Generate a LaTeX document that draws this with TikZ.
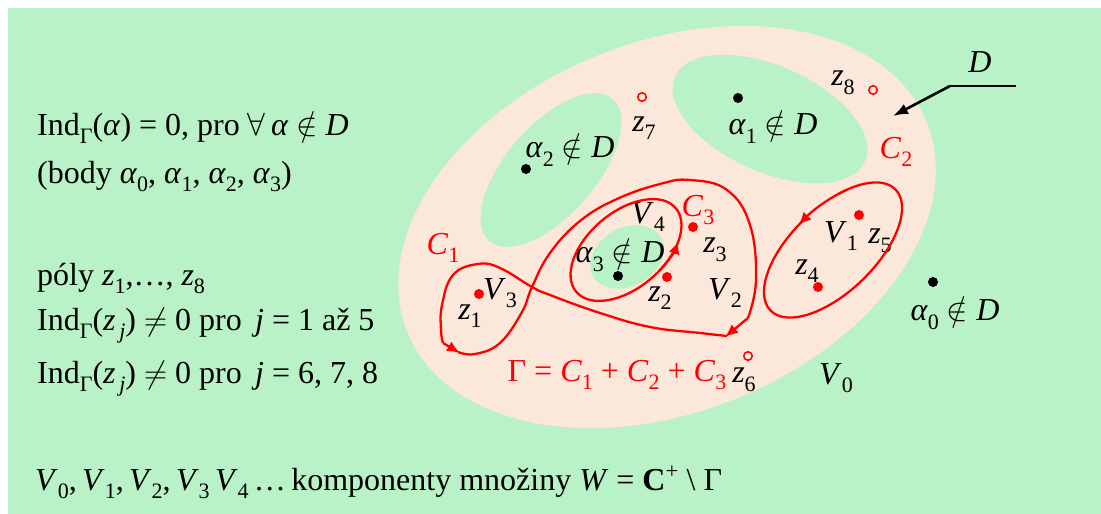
\documentclass[tikz,border=0pt]{standalone}
\usepackage{fix-cm}
\usepackage{fontspec}
\setmainfont{Liberation Serif}
\usetikzlibrary{arrows.meta}
\definecolor{Meadow}{HTML}{B9F2C7}
\definecolor{Peach}{HTML}{FCE8DA}
\newcommand{\lo}[1]{\raisebox{-0.27em}{\fontsize{22}{24}\selectfont #1}}
\newcommand{\indG}{Ind\lo{Γ}}

\begin{document}
\begin{tikzpicture}[x=1pt,y=-1pt,
    every node/.style={font=\fontsize{32}{38}\selectfont, inner sep=0pt},
    txt/.style={anchor=base west},
    pt/.style={circle, fill=black, minimum size=10pt},
    pole/.style={circle, fill=red, minimum size=10pt},
    ring/.style={circle, draw=red, line width=1.5pt, minimum size=8.5pt},
    curve/.style={red, line width=2.3pt},
    tip/.style={-{Latex[length=13pt,width=11pt]}}]
  \useasboundingbox (0,0) rectangle (1101,514);
  \fill[Meadow] (8,8) rectangle (1101,514);
  % oblast D s dirami
  \fill[Peach, rotate around={22:(667,227)}] (667,227) ellipse [x radius=280, y radius=185];
  \fill[Meadow, rotate around={-24:(770,119)}] (770,119) ellipse [x radius=104, y radius=53];
  \fill[Meadow, rotate around={49:(551,170)}] (551,170) ellipse [x radius=94, y radius=45];
  \fill[Meadow, rotate around={30:(627,257)}] (627,257) ellipse [x radius=39, y radius=29];

  % text vlevo
  \node[txt] (t1) at (37,135) {\indG(\textit{α}) = 0, pro $\forall$\,\textit{α} $\notin$ \textit{D}};
  \node[txt] (t2) at (37,183) {(body \textit{α}\lo{0}, \textit{α}\lo{1}, \textit{α}\lo{2}, \textit{α}\lo{3})};
  \node[txt] (t3) at (37,285) {póly \textit{z}\lo{1},…, \textit{z}\lo{8}};
  \node[txt] (t4) at (37,330) {\indG(\textit{z}\lo{\,\textit{j}}) $\neq$ 0 pro \,\textit{j} = 1 až 5};
  \node[txt] (t5) at (37,383) {\indG(\textit{z}\lo{\,\textit{j}}) $\neq$ 0 pro \,\textit{j} = 6, 7, 8};
  \node[txt] (t6) at (35,490) {\textit{V}\lo{0},\,\textit{V}\lo{1},\,\textit{V}\lo{2},\,\textit{V}\lo{3}\,\textit{V}\lo{4}\,…\,komponenty množiny \textit{W} = \textbf{C}\textsuperscript{+} \textbackslash\ Γ};

  % body alfa
  \node[pt] (a0) at (933,282) {};
  \node[pt] (a1) at (738,98) {};
  \node[pt] (a2) at (526,169) {};
  \node[pt] (a3) at (618,276) {};
  \node (la0) at (955,313) {\textit{α}\lo{0} $\notin$ \textit{D}};
  \node (la1) at (773,127) {\textit{α}\lo{1} $\notin$ \textit{D}};
  \node (la2) at (570,150) {\textit{α}\lo{2} $\notin$ \textit{D}};
  \node (la3) at (620,255) {\textit{α}\lo{3} $\notin$ \textit{D}};

  % poly
  \node[pole] (z1) at (479,294) {};
  \node[pole] (z2) at (667,277) {};
  \node[pole] (z3) at (693,227) {};
  \node[pole] (z4) at (818,287) {};
  \node[pole] (z5) at (859,215) {};
  \node[ring] (z6) at (748,356) {};
  \node[ring] (z7) at (642,97) {};
  \node[ring] (z8) at (873,90) {};
  \node (lz1) at (470,316) {\textit{z}\lo{1}};
  \node (lz2) at (660,298) {\textit{z}\lo{2}};
  \node (lz3) at (715,250) {\textit{z}\lo{3}};
  \node (lz4) at (807,271) {\textit{z}\lo{4}};
  \node (lz5) at (880,241) {\textit{z}\lo{5}};
  \node (lz6) at (744,380) {\textit{z}\lo{6}};
  \node (lz7) at (644,128) {\textit{z}\lo{7}};
  \node (lz8) at (843,83) {\textit{z}\lo{8}};

  % komponenty
  \node (V0) at (836,378) {\textit{V}\lo{0}};
  \node (V1) at (841,236) {\textit{V}\lo{1}};
  \node (V2) at (725,293) {\textit{V}\lo{2}};
  \node (V3) at (500,293) {\textit{V}\lo{3}};
  \node (V4) at (648,217) {\textit{V}\lo{4}};

  % krivky
  \draw[curve] plot[smooth, tension=0.7] coordinates {(727,336) (700,333) (650,327) (600,313)
    (550,295) (532,287) (500,268) (478,264) (453,275) (442,305) (441,330) (443,343)};
  \draw[curve, tip] (443,343) -- (460,353);
  \draw[curve] plot[smooth, tension=0.7] coordinates {(458,352) (475,354) (500,343) (522,312)
    (532,287) (550,253) (580,221) (617,199) (660,184) (690,180) (727,190) (750,225) (756,280) (748,318)};
  \draw[curve, tip] (748,318) -- (725,337);
  \begin{scope}[shift={(833,250)}, rotate=44, yscale=-1]
    \draw[curve] (90:87 and 42) arc[start angle=90, end angle=420, x radius=87, y radius=42];
    \draw[curve, tip] (55:87 and 42) arc[start angle=55, end angle=95, x radius=87, y radius=42];
  \end{scope}
  \begin{scope}[shift={(626,250)}, rotate=40, yscale=-1]
    \draw[curve] (0:65 and 38) arc[start angle=0, end angle=360, x radius=65, y radius=38];
    \draw[curve, tip] (-80:65 and 38) arc[start angle=-80, end angle=-45, x radius=65, y radius=38];
  \end{scope}
  \node[red] (C1) at (443,248) {\textit{C}\lo{1}};
  \node[red] (C2) at (896,152) {\textit{C}\lo{2}};
  \node[red] (C3) at (698,210) {\textit{C}\lo{3}};
  \node[red] (G) at (617,375) {Γ = \textit{C}\lo{1} + \textit{C}\lo{2} + \textit{C}\lo{3}};

  % sipka k D
  \node (D) at (980,62) {\textit{D}};
  \coordinate (Dend) at (1016,86);
  \coordinate (Dknee) at (950,86);
  \coordinate (Dtip) at (893,116);
  \draw[line width=1.4pt] (Dend) -- (Dknee);
  \draw[line width=2.6pt, -{Latex[length=15pt,width=11pt]}] (Dknee) -- (Dtip);
\end{tikzpicture}
\end{document}
